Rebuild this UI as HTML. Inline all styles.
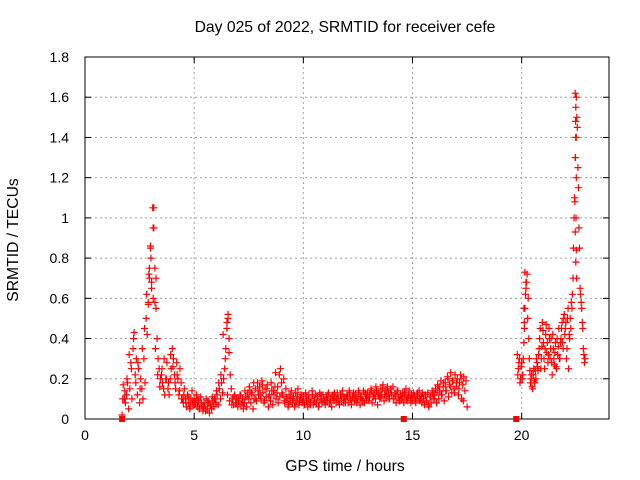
<!DOCTYPE html>
<html><head><meta charset="utf-8"><style>
body{margin:0;background:#fff;}
svg{display:block;font-family:"Liberation Sans",Arial,sans-serif;font-size:14px;}
.ttl{font-size:15.7px;}
</style></head><body>
<svg id="chart" width="640" height="480" viewBox="0 0 640 480">
<text class="ttl" x="345" y="32" text-anchor="middle">Day 025 of 2022, SRMTID for receiver cefe</text>
<text class="ttl" x="345" y="471" text-anchor="middle">GPS time / hours</text>
<text class="ttl" x="18" y="240" text-anchor="middle" transform="rotate(-90 18 240)">SRMTID / TECUs</text>
<g id="grid"></g><g id="axes"></g><g id="marks"></g>
</svg>
<script>
const xTicks=[0,5,10,15,20];
const yTicks=[0,0.2,0.4,0.6,0.8,1,1.2,1.4,1.6,1.8];
const yTickLabels=["0","0.2","0.4","0.6","0.8","1","1.2","1.4","1.6","1.8"];
const seg1Start=1.7, seg1Step=0.05;
const seg1Values=[0.02,0.17,0.10,0.08,0.12,0.18,
0.05,0.15,0.28,0.10,0.35,0.43,0.22,0.30,0.12,0.25,
0.08,0.20,0.15,0.10,0.30,0.18,0.50,0.42,0.58,0.70,
0.85,0.68,1.05,0.95,0.75,0.55,0.40,0.30,0.25,0.20,
0.22,0.18,0.15,0.12,0.20,0.28,0.15,0.12,0.20,0.25,
0.35,0.30,0.22,0.15,0.28,0.20,0.12,0.25,0.18,0.10,
0.08,0.15,0.10,0.06,0.12,0.08,0.05,0.10,0.14,0.07,
0.10,0.08,0.12,0.06,0.09,0.05,0.11,0.07,0.04,0.08,
0.06,0.10,0.05,0.08,0.03,0.07,0.05,0.09,0.06,0.10,
0.08,0.12,0.07,0.15,0.10,0.18,0.13,0.20,0.25,0.35,
0.48,0.52,0.33,0.22,0.15,0.10,0.07,0.12,0.08,0.10,
0.06,0.09,0.12,0.07,0.10,0.05,0.08,0.11,0.06,0.13,
0.10,0.14,0.08,0.12,0.05,0.10,0.15,0.09,0.18,0.12,
0.16,0.10,0.19,0.13,0.08,0.15,0.11,0.17,0.06,0.12,
0.09,0.14,0.07,0.12,0.16,0.10,0.13,0.08,0.22,0.25,
0.18,0.12,0.20,0.08,0.15,0.10,0.06,0.12,0.09,0.14,
0.08,0.11,0.06,0.13,0.09,0.15,0.07,0.12,0.10,0.08,
0.11,0.07,0.13,0.09,0.06,0.12,0.08,0.10,0.14,0.07,
0.09,0.12,0.08,0.11,0.06,0.13,0.10,0.08,0.12,0.09,
0.07,0.11,0.09,0.13,0.08,0.10,0.06,0.12,0.09,0.11,
0.08,0.13,0.10,0.07,0.12,0.09,0.14,0.08,0.11,0.10,
0.12,0.08,0.14,0.10,0.07,0.11,0.13,0.09,0.12,0.08,
0.10,0.13,0.07,0.11,0.09,0.14,0.08,0.12,0.10,0.13,
0.09,0.12,0.15,0.08,0.11,0.13,0.10,0.14,0.07,0.12,
0.10,0.15,0.12,0.17,0.09,0.14,0.11,0.16,0.13,0.10,
0.15,0.12,0.16,0.10,0.13,0.08,0.14,0.11,0.09,0.12,
0.10,0.13,0.08,0.12,0.15,0.09,0.11,0.14,0.10,0.12,
0.09,0.13,0.11,0.08,0.12,0.10,0.14,0.09,0.11,0.13,
0.10,0.07,0.12,0.09,0.13,0.06,0.11,0.08,0.14,0.10,
0.12,0.15,0.08,0.17,0.10,0.14,0.19,0.12,0.16,0.09,
0.18,0.14,0.21,0.11,0.17,0.23,0.13,0.19,0.15,0.22,
0.16,0.20,0.12,0.18,0.22,0.10,0.17,0.21,0.14,0.19,0.06];
const seg1bStart=1.725, seg1bStep=0.1;
const seg1bValues=[0.10,0.14,0.20,0.32,0.25,0.40,0.18,0.28,0.15,0.35,0.45,0.62,0.72,
0.80,0.60,0.35,0.22,0.16,0.25,0.30,0.20,0.18,0.32,
0.26,0.18,0.22,0.14,0.10,0.12,0.08,0.11,0.06,0.09,
0.07,0.10,0.05,0.08,0.06,0.04,0.09,0.07,0.11,0.10,
0.14,0.18,0.22,0.42,0.30,0.12,0.09,0.07,0.11,0.08,
0.10,0.12,0.08,0.14,0.11,0.16,0.13,0.18,0.10,0.14,
0.12,0.17,0.09,0.15,0.11,0.18,0.14,0.23,0.16,0.11,
0.13,0.09,0.11,0.07,0.12,0.10,0.08,0.11,0.09,0.12,
0.08,0.11,0.10,0.07,0.12,0.09,0.11,0.08,0.12,0.10,
0.09,0.12,0.08,0.11,0.13,0.10,0.09,0.12,0.11,0.08,
0.11,0.13,0.09,0.12,0.10,0.14,0.11,0.09,0.13,0.12,
0.11,0.14,0.12,0.16,0.13,0.11,0.15,0.12,0.14,0.10,
0.13,0.10,0.12,0.14,0.09,0.11,0.13,0.10,0.12,0.08,
0.11,0.09,0.13,0.10,0.08,0.12,0.09,0.07,0.11,0.13,
0.10,0.13,0.16,0.12,0.18,0.14,0.20,0.16,0.19,0.13,
0.18,0.15,0.20,0.09];
const seg2Start=19.8, seg2Step=0.05;
const seg2Values=[0.32,0.25,0.30,0.20,0.28,0.22,0.38,0.55,0.65,0.72,
0.60,0.30,0.18,0.22,0.15,0.25,0.18,0.20,0.28,0.24,
0.35,0.45,0.30,0.48,0.38,0.25,0.42,0.33,0.28,0.45,
0.30,0.40,0.22,0.35,0.27,0.38,0.25,0.32,0.45,0.30,
0.40,0.48,0.35,0.52,0.45,0.30,0.50,0.25,0.40,0.45,
0.55,0.70,1.00,1.30,1.60,1.45,1.15,0.85,0.62,0.55,0.45,0.32,0.30];
const seg2bStart=19.825, seg2bStep=0.05;
const seg2bValues=[0.22,0.28,0.18,0.26,0.20,0.30,0.45,0.62,0.68,0.50,
0.40,0.24,0.20,0.16,0.22,0.19,0.24,0.30,0.26,0.32,
0.40,0.25,0.36,0.44,0.30,0.35,0.47,0.38,0.32,0.40,
0.35,0.28,0.42,0.30,0.33,0.26,0.40,0.36,0.30,0.38,
0.45,0.38,0.50,0.42,0.48,0.35,0.55,0.42,0.50,0.58,
0.62,0.85,1.10,1.40,1.50,1.25,0.95,0.65,0.58,0.48,0.35,0.28];
const extraTimes=[22.45,22.48,22.47,22.5,22.46,22.5,22.44,22.49,22.45,22.5,22.48,22.52,3.15,3.12,3.0,2.95,3.2,3.25,3.05,2.9,3.2,6.55,6.5,6.6,20.15,20.2,20.1,20.12];
const extraValues=[1.62,1.55,1.48,1.40,1.30,1.20,1.08,1.00,0.93,0.84,0.78,0.70,1.05,0.95,0.86,0.75,0.75,0.70,0.65,0.57,0.58,0.50,0.45,0.40,0.73,0.68,0.55,0.48];
const floorTimes=[1.7,14.6,19.75];
const floorValues=[0,0,0];

const L=85,R=609,T=57,B=419;
const xs=t=>L+(t/24)*(R-L);
const ys=v=>B-(v/1.8)*(B-T);
const NS="http://www.w3.org/2000/svg";
function mk(tag,attrs,parent){const e=document.createElementNS(NS,tag);for(const k in attrs)e.setAttribute(k,attrs[k]);parent.appendChild(e);return e;}
const grid=document.getElementById('grid'),axes=document.getElementById('axes'),marks=document.getElementById('marks');
xTicks.forEach((t,i)=>{const x=xs(t);
 if(t>0){const g=mk('line',{x1:x,x2:x,y1:T,y2:B,stroke:'#a0a0a0','stroke-dasharray':'2,3'},grid);
 
 }
 mk('line',{x1:x,x2:x,y1:B,y2:B-6,stroke:'#000'},axes);
 mk('line',{x1:x,x2:x,y1:T,y2:T+6,stroke:'#000'},axes);
 const tx=mk('text',{x:x,y:B+21,'text-anchor':'middle'},axes);tx.textContent=t;
 
 
});
yTicks.forEach((v,i)=>{const y=ys(v);
 if(v>0&&v<1.8){const g=mk('line',{x1:L,x2:R,y1:y,y2:y,stroke:'#a0a0a0','stroke-dasharray':'2,3'},grid);
 
 }
 mk('line',{x1:L,x2:L+6,y1:y,y2:y,stroke:'#000'},axes);
 mk('line',{x1:R,x2:R-6,y1:y,y2:y,stroke:'#000'},axes);
 const tx=mk('text',{x:L-16,y:y+5,'text-anchor':'end'},axes);tx.textContent=yTickLabels[i];
 
 
});
const frame=mk('rect',{x:L,y:T,width:R-L,height:B-T,fill:'none',stroke:'#000'},axes);


let d='';
function plus(t,v){const x=xs(t),y=ys(v);d+=`M${(x-3.5).toFixed(1)} ${y.toFixed(1)}h7M${x.toFixed(1)} ${(y-3.5).toFixed(1)}v7`;}
seg1Values.forEach((v,i)=>plus(seg1Start+i*seg1Step,v));
seg1bValues.forEach((v,i)=>plus(seg1bStart+i*seg1bStep,v));
seg2Values.forEach((v,i)=>plus(seg2Start+i*seg2Step,v));
seg2bValues.forEach((v,i)=>plus(seg2bStart+i*seg2bStep,v));
extraValues.forEach((v,i)=>plus(extraTimes[i],v));
const p=mk('path',{d:d,stroke:'#ff0000','stroke-width':1.2,fill:'none'},marks);


floorValues.forEach((v,i)=>{const r=mk('rect',{x:xs(floorTimes[i])-3,y:ys(v)-3,width:6,height:6,fill:'#ff0000'},marks);
 
 });
</script>
</body></html>
